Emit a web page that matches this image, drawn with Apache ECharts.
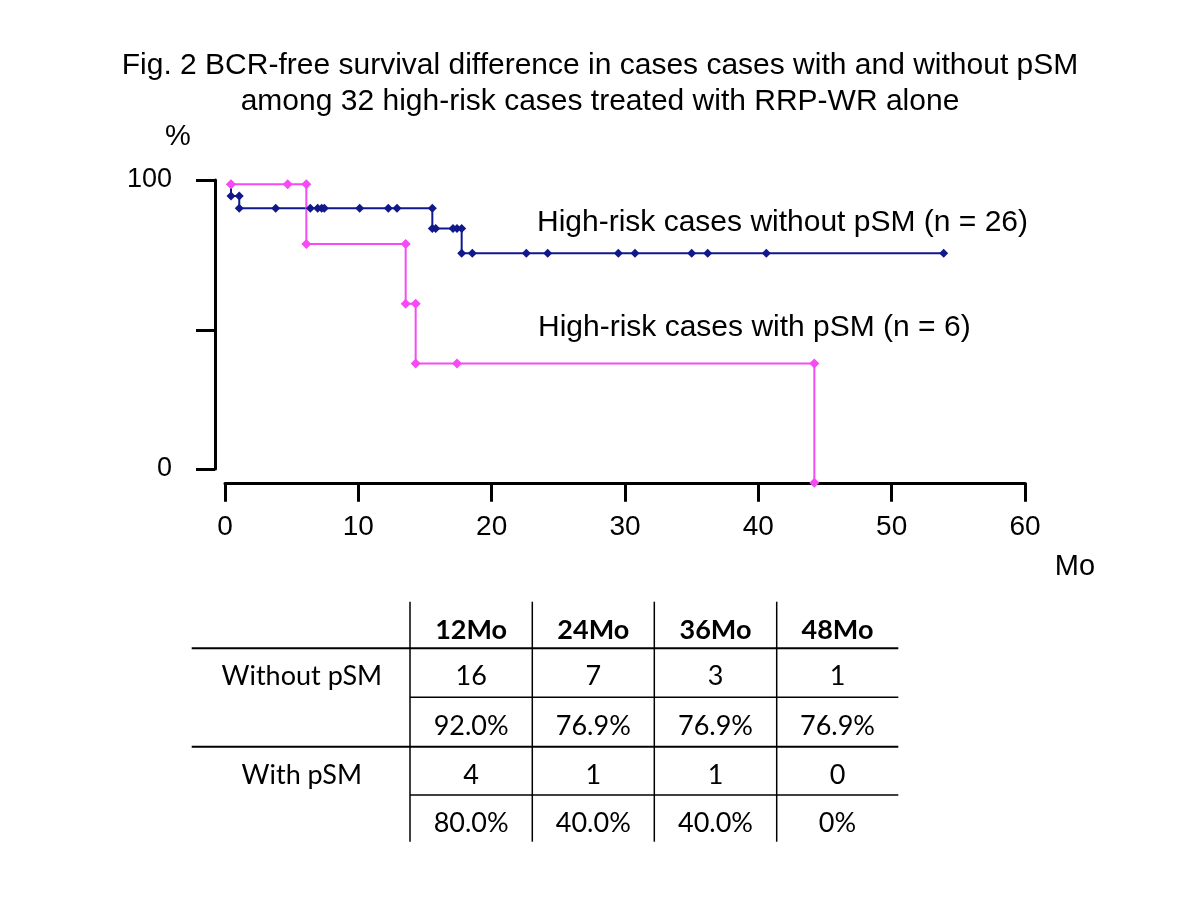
<!DOCTYPE html>
<html>
<head>
<meta charset="utf-8">
<script src="https://cdn.jsdelivr.net/npm/echarts@6/dist/echarts.min.js"></script>
<style>
html,body{margin:0;padding:0;background:#fff;}
#chart{width:1200px;height:900px;}
</style>
</head>
<body>
<div id="chart"></div>
<script>
// ---- data ----
const titleLines = [
  'Fig. 2 BCR-free survival difference in cases cases with and without pSM',
  'among 32 high-risk cases treated with RRP-WR alone'
];
const xTicks = [0, 10, 20, 30, 40, 50, 60];
const yTickLabels = [0, 100];

// without pSM (n = 26) : time (months) and survival (%)
const withoutTimes = [0.45, 0.45, 1.07, 1.07, 3.8, 6.4, 6.95, 7.25, 7.45, 10.1, 12.25, 12.9, 15.55, 15.55, 15.8, 17.1, 17.4, 17.75, 17.75, 18.55, 22.6, 24.2, 29.5, 30.75, 35.0, 36.2, 40.6, 53.9];
const withoutSurv  = [100, 96.1, 96.1, 92.0, 92.0, 92.0, 92.0, 92.0, 92.0, 92.0, 92.0, 92.0, 92.0, 85.2, 85.2, 85.2, 85.2, 85.2, 76.9, 76.9, 76.9, 76.9, 76.9, 76.9, 76.9, 76.9, 76.9, 76.9];

// with pSM (n = 6)
const withTimes = [0.45, 4.7, 6.1, 6.1, 13.55, 13.55, 14.3, 14.3, 17.4, 44.2, 44.2];
const withSurv  = [100, 100, 100, 80, 80, 60, 60, 40, 40, 40, 0];

const seriesNames = ['High-risk cases without pSM (n = 26)', 'High-risk cases with pSM (n = 6)'];

// table
const tableHeaders = ['12Mo', '24Mo', '36Mo', '48Mo'];
const rowLabels = ['Without pSM', 'With pSM'];
const withoutAtRisk = ['16', '7', '3', '1'];
const withoutRate = ['92.0%', '76.9%', '76.9%', '76.9%'];
const withAtRisk = ['4', '1', '1', '0'];
const withRate = ['80.0%', '40.0%', '40.0%', '0%'];

// ---- build ----
const BLUE = '#10188c';
const PINK = '#f64af6';
const AXISFONT = '"Liberation Sans", Arial, sans-serif';
const TABLEFONT = 'Lato, "Open Sans", sans-serif';

function pairs(xs, ys){ return xs.map((x,i)=>[x, ys[i]]); }

const chart = echarts.init(document.getElementById('chart'), null, {renderer:'canvas'});

// table graphics
const colEdges = [191.7, 410, 532.3, 654.3, 776.7, 898.3];
const rowCenters = [630, 676.7, 726.7, 775, 823.3];
const g = [];
function txt(x, y, s, bold){
  g.push({type:'text', x:x, y:y, style:{text:s, x:0, y:0, align:'center', verticalAlign:'middle',
    font:(bold?'bold ':'')+'27px '+TABLEFONT, fill:'#000'}});
}
function line(x1,y1,x2,y2,w){
  g.push({type:'line', shape:{x1:x1,y1:y1,x2:x2,y2:y2}, style:{stroke:'#000', lineWidth:w}});
}
const colCenter = i => (colEdges[i] + colEdges[i+1]) / 2;
tableHeaders.forEach((h,i)=>txt(colCenter(i+1), rowCenters[0], h, true));
txt(colCenter(0)+1, rowCenters[1], rowLabels[0]);
txt(colCenter(0)+1, rowCenters[3], rowLabels[1]);
withoutAtRisk.forEach((v,i)=>txt(colCenter(i+1), rowCenters[1], v));
withoutRate.forEach((v,i)=>txt(colCenter(i+1), rowCenters[2], v));
withAtRisk.forEach((v,i)=>txt(colCenter(i+1), rowCenters[3], v));
withRate.forEach((v,i)=>txt(colCenter(i+1), rowCenters[4], v));
[1,2,3,4].forEach(i=>line(colEdges[i], 601.7, colEdges[i], 841.7, 1.5));
line(191.7, 648.3, 898.3, 648.3, 2);
line(410, 697.3, 898.3, 697.3, 1.5);
line(191.7, 746.7, 898.3, 746.7, 2);
line(410, 795, 898.3, 795, 1.5);

// free texts
g.push({type:'text', x:178, y:137, style:{text:'%', align:'center', verticalAlign:'middle', font:'29px '+AXISFONT, fill:'#000'}});
g.push({type:'text', x:1075, y:567, style:{text:'Mo', align:'center', verticalAlign:'middle', font:'29px '+AXISFONT, fill:'#000'}});
g.push({type:'text', x:537, y:222.5, style:{text:seriesNames[0], align:'left', verticalAlign:'middle', font:'30px '+AXISFONT, fill:'#000'}});
g.push({type:'text', x:538, y:328, style:{text:seriesNames[1], align:'left', verticalAlign:'middle', font:'30px '+AXISFONT, fill:'#000'}});

const option = {
  animation: false,
  backgroundColor: '#fff',
  title: [
    {text: titleLines[0], left:'center', top:46, textStyle:{fontFamily:AXISFONT, fontSize:30, fontWeight:'normal', color:'#000'}},
    {text: titleLines[1], left:'center', top:82, textStyle:{fontFamily:AXISFONT, fontSize:30, fontWeight:'normal', color:'#000'}}
  ],
  grid: [
    {left:225, top:184.3, width:800, height:298.5},
    {left:215, top:180, width:10, height:289}
  ],
  xAxis: [
    {type:'value', gridIndex:0, min:xTicks[0], max:xTicks[xTicks.length-1], interval:10, offset:8,
      axisLine:{show:true, lineStyle:{color:'#000', width:3}},
      axisTick:{show:true, inside:false, length:19, lineStyle:{color:'#000', width:3}},
      axisLabel:{show:true, margin:22, fontSize:28, fontFamily:AXISFONT, color:'#000'},
      splitLine:{show:false}},
    {type:'value', gridIndex:1, show:false, min:0, max:1}
  ],
  yAxis: [
    {type:'value', gridIndex:0, min:0, max:100, show:false, splitLine:{show:false}},
    {type:'value', gridIndex:1, min:0, max:100, position:'left',
      axisLine:{show:true, lineStyle:{color:'#000', width:3}},
      axisTick:{show:true, inside:false, length:19, customValues:[0, 48.1, 100], lineStyle:{color:'#000', width:3}},
      axisLabel:{show:true, customValues:yTickLabels, margin:43, fontSize:27, fontFamily:AXISFONT, color:'#000'},
      splitLine:{show:false}}
  ],
  series: [
    {name: seriesNames[0], type:'line', xAxisIndex:0, yAxisIndex:0, data: pairs(withoutTimes, withoutSurv),
      symbol:'diamond', symbolSize:9, showAllSymbol:true, clip:false,
      lineStyle:{color:BLUE, width:2}, itemStyle:{color:BLUE}},
    {name: seriesNames[1], type:'line', xAxisIndex:0, yAxisIndex:0, data: pairs(withTimes, withSurv),
      symbol:'diamond', symbolSize:10, showAllSymbol:true, clip:false,
      lineStyle:{color:PINK, width:2}, itemStyle:{color:PINK}}
  ],
  graphic: g
};
chart.setOption(option);
</script>
</body>
</html>
